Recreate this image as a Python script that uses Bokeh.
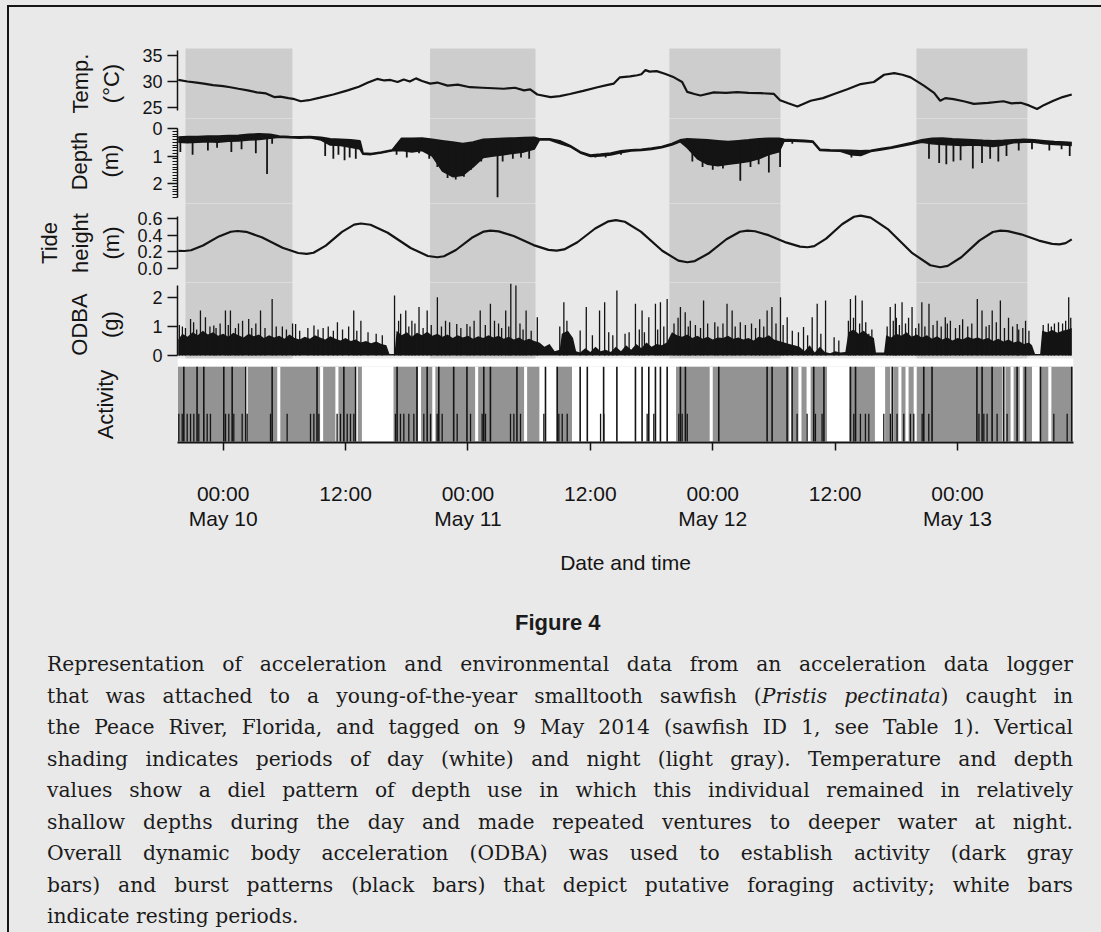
import numpy as np
from bokeh.plotting import figure
from bokeh.models import Range1d, FixedTicker, BoxAnnotation, Div, NumeralTickFormatter
from bokeh.layouts import column
from bokeh.embed import file_html
from bokeh.resources import INLINE

# ---------------- data : time in hours since 00:00, 10 May 2014 ----------------
night_start = [-3.7, 20.28, 43.75, 67.97]
night_end = [6.79, 30.62, 54.64, 78.85]

tick_hours = [0, 12, 24, 36, 48, 60, 72]
tick_labels = ["00:00\nMay 10", "12:00", "00:00\nMay 11", "12:00", "00:00\nMay 12", "12:00", "00:00\nMay 13"]

temp_t = [-4.4, -3.5, -2.6, -1.9, -1.0, 0.0, 0.7, 1.5, 2.4, 3.3, 4.2, 5.0, 5.6, 6.4, 7.0, 7.6, 8.4, 9.5,
          10.8, 12.2, 13.3, 14.2, 15.1, 15.8, 16.4, 17.1, 17.7, 18.3, 18.9, 19.5, 20.3, 21.0, 22.0, 23.0,
          24.2, 25.4, 26.5, 27.5, 28.6, 29.5, 30.1, 30.8, 32.1, 33.0, 34.0, 35.3, 36.7, 37.6, 38.3, 38.9,
          39.9, 40.6, 41.0, 41.4, 41.8, 42.5, 43.3, 44.2, 45.0, 45.5, 46.2, 46.8, 48.1, 49.3, 50.4, 51.5,
          52.7, 54.0, 54.6, 55.4, 56.3, 57.6, 58.8, 59.9, 61.2, 62.5, 63.8, 64.8, 65.8, 66.6, 67.4, 68.7,
          69.7, 70.3, 70.8, 71.6, 72.6, 73.6, 75.0, 76.5, 77.3, 78.2, 79.0, 79.8, 80.5, 81.4, 82.3, 83.2]
temp_c = [30.3, 30.0, 29.8, 29.6, 29.3, 29.1, 28.9, 28.6, 28.3, 27.9, 27.7, 27.0, 27.1, 26.8, 26.6, 26.2,
          26.4, 26.9, 27.5, 28.3, 29.0, 29.8, 30.5, 30.2, 30.3, 29.9, 30.4, 30.0, 30.6, 30.1, 29.6, 29.8,
          29.2, 29.4, 28.9, 28.8, 28.7, 28.6, 28.8, 28.3, 28.5, 27.5, 27.0, 27.2, 27.6, 28.2, 28.9, 29.3,
          29.6, 30.8, 31.0, 31.2, 31.4, 32.2, 31.9, 32.0, 31.5, 30.8, 29.9, 28.0, 27.6, 27.3, 27.9, 27.8,
          27.95, 27.8, 27.75, 27.6, 26.4, 25.8, 25.2, 26.3, 26.8, 27.6, 28.5, 29.5, 29.9, 31.3, 31.6, 31.3,
          30.8, 29.2, 27.8, 26.3, 26.8, 26.6, 26.2, 25.7, 25.9, 26.2, 25.8, 25.9, 25.4, 24.7, 25.5, 26.3,
          27.0, 27.5]

depth_t = [-4.4, -3.5, -2.5, -1.5, -0.5, 0.5, 1.5, 2.5, 3.5, 4.6, 5.5, 6.5, 7.5, 8.5, 9.6, 10.5, 11.5,
           12.5, 13.4, 13.7, 14.5, 15.5, 16.6, 17.5, 18.5, 19.5, 20.5, 21.5, 22.5, 23.5, 24.5, 25.5, 26.5,
           27.5, 28.5, 29.5, 30.5, 31.0, 32.0, 33.0, 34.0, 35.0, 36.0, 37.0, 38.0, 39.0, 40.0, 41.0, 42.0,
           43.0, 44.0, 44.8, 45.5, 46.5, 47.5, 48.5, 49.5, 50.5, 51.5, 52.5, 53.5, 54.5, 55.0, 56.0, 57.0,
           57.8, 58.5, 59.5, 60.5, 61.5, 62.5, 63.5, 64.5, 65.5, 66.5, 67.5, 68.5, 69.5, 70.5, 71.5, 72.5,
           73.5, 74.5, 75.5, 76.5, 77.5, 78.5, 79.5, 80.5, 81.5, 82.5, 83.2]
depth_top = [0.32, 0.30, 0.30, 0.28, 0.28, 0.26, 0.25, 0.22, 0.20, 0.22, 0.28, 0.30, 0.31, 0.30, 0.33,
             0.38, 0.40, 0.42, 0.45, 0.90, 0.92, 0.86, 0.78, 0.36, 0.36, 0.35, 0.40, 0.45, 0.50, 0.55,
             0.50, 0.40, 0.38, 0.36, 0.35, 0.34, 0.33, 0.38, 0.38, 0.45, 0.62, 0.85, 0.97, 0.94, 0.90,
             0.82, 0.78, 0.76, 0.72, 0.66, 0.55, 0.42, 0.38, 0.40, 0.42, 0.45, 0.48, 0.45, 0.42, 0.38,
             0.36, 0.36, 0.40, 0.42, 0.44, 0.46, 0.76, 0.78, 0.79, 0.80, 0.82, 0.80, 0.74, 0.68, 0.60,
             0.52, 0.42, 0.36, 0.35, 0.38, 0.40, 0.42, 0.44, 0.45, 0.44, 0.42, 0.40, 0.42, 0.45, 0.48,
             0.50, 0.52]
depth_bot = [0.50, 0.52, 0.50, 0.48, 0.50, 0.46, 0.45, 0.42, 0.40, 0.35, 0.32, 0.34, 0.35, 0.34, 0.42,
             0.60, 0.62, 0.68, 0.75, 0.94, 0.95, 0.89, 0.81, 0.80, 0.85, 0.80, 1.00, 1.55, 1.75, 1.70,
             1.40, 1.05, 1.00, 0.95, 0.90, 0.85, 0.75, 0.42, 0.42, 0.55, 0.66, 0.89, 1.02, 1.00, 0.96,
             0.88, 0.82, 0.80, 0.76, 0.70, 0.60, 0.48, 0.70, 1.10, 1.30, 1.35, 1.30, 1.25, 1.20, 1.10,
             0.95, 0.85, 0.45, 0.46, 0.48, 0.50, 0.80, 0.82, 0.83, 0.95, 0.98, 0.84, 0.78, 0.72, 0.65,
             0.57, 0.50, 0.55, 0.58, 0.60, 0.62, 0.60, 0.62, 0.65, 0.60, 0.52, 0.50, 0.50, 0.55, 0.58,
             0.60, 0.62]

depth_spike_t = [-4.2, -3.0, -1.5, -0.6, 0.8, 1.8, 3.2, 4.3, 4.8, 10.0, 10.8, 11.3, 11.9, 12.4, 13.0,
                 17.0, 18.0, 19.2, 20.2, 21.0, 22.0, 22.8, 23.6, 24.3, 25.3, 26.9, 27.4, 28.4, 29.2, 30.0,
                 36.5, 37.5, 39.0, 46.0, 47.0, 48.0, 49.0, 50.7, 51.7, 52.5, 53.5, 54.6, 55.8, 61.6, 62.3,
                 69.2, 70.2, 70.9, 71.6, 72.3, 73.5, 74.4, 75.2, 76.0, 76.8, 78.0, 79.3, 81.0, 82.2, 83.0]
depth_spike_d = [0.85, 0.95, 0.80, 0.70, 0.85, 0.75, 0.90, 1.65, 0.55, 1.00, 1.10, 0.95, 1.15, 1.05, 1.10,
                 0.95, 1.05, 0.90, 1.10, 1.40, 1.80, 1.85, 1.75, 1.50, 1.20, 2.50, 1.20, 1.10, 1.05, 1.10,
                 1.05, 1.05, 0.95, 1.20, 1.40, 1.50, 1.45, 1.90, 1.40, 1.30, 1.60, 1.40, 0.55, 1.05, 1.00,
                 1.10, 1.25, 1.30, 1.20, 1.15, 1.45, 1.25, 1.10, 1.20, 1.00, 0.80, 0.75, 0.80, 0.75, 1.00]

tide_t = [-4.4, -3.8, -3.15, -1.98, -0.42, 0.75, 1.4, 2.25, 3.78, 5.82, 7.35, 8.2, 8.86, 10.06, 11.65,
          12.84, 13.5, 14.44, 16.13, 18.38, 20.06, 21.0, 21.65, 22.82, 24.38, 25.55, 26.2, 27.01, 28.48,
          30.43, 31.89, 32.7, 33.43, 34.73, 36.47, 37.78, 38.5, 39.38, 40.95, 43.05, 44.63, 45.5, 46.24,
          47.57, 49.34, 50.66, 51.4, 52.14, 53.47, 55.24, 56.56, 57.3, 57.95, 59.12, 60.68, 61.85, 62.5,
          63.48, 65.23, 67.57, 69.33, 70.3, 71.04, 72.37, 74.14, 75.46, 76.2, 76.93, 78.23, 79.97, 81.28,
          82.0, 82.6, 83.2]
tide_h = [0.212, 0.21, 0.219, 0.276, 0.385, 0.441, 0.45, 0.44, 0.375, 0.25, 0.186, 0.175, 0.189, 0.275,
          0.44, 0.526, 0.54, 0.525, 0.429, 0.246, 0.15, 0.135, 0.147, 0.222, 0.368, 0.443, 0.455, 0.446,
          0.39, 0.281, 0.224, 0.215, 0.229, 0.315, 0.48, 0.566, 0.58, 0.561, 0.442, 0.213, 0.094, 0.075,
          0.089, 0.179, 0.351, 0.441, 0.455, 0.447, 0.4, 0.31, 0.263, 0.255, 0.269, 0.359, 0.531, 0.621,
          0.635, 0.611, 0.466, 0.184, 0.039, 0.015, 0.032, 0.135, 0.335, 0.438, 0.455, 0.449, 0.41, 0.335,
          0.296, 0.29, 0.305, 0.35]

odba_t = [-4.4, -4.0, -3.5, -3.0, -2.5, -2.0, -1.5, -1.0, -0.5, 0.0, 0.5, 1.0, 1.5, 2.0, 2.5, 3.0, 3.5,
          4.0, 4.5, 5.0, 5.5, 6.0, 6.5, 7.0, 7.5, 8.0, 8.5, 9.0, 9.5, 10.0, 10.5, 11.0, 11.5, 12.0, 12.5,
          13.0, 13.5, 14.0, 14.5, 15.0, 15.5, 16.0, 16.3, 16.8, 17.0, 17.5, 18.0, 18.5, 19.0, 19.5, 20.0,
          20.5, 21.0, 21.5, 22.0, 22.5, 23.0, 23.5, 24.0, 24.5, 25.0, 25.5, 26.0, 26.5, 27.0, 27.5, 28.0,
          28.5, 29.0, 29.5, 30.0, 30.5, 31.0, 31.5, 32.0, 32.5, 33.0, 33.2, 33.8, 34.3, 34.6, 35.0, 35.5,
          36.0, 36.5, 37.0, 37.5, 38.0, 38.5, 39.0, 39.5, 40.0, 40.5, 41.0, 41.5, 42.0, 42.5, 43.0, 43.5,
          44.0, 44.5, 45.0, 45.5, 46.0, 46.5, 47.0, 47.5, 48.0, 48.5, 49.0, 49.5, 50.0, 50.5, 51.0, 51.5,
          52.0, 52.5, 53.0, 53.5, 54.0, 54.5, 55.0, 55.5, 56.0, 56.5, 57.0, 57.5, 58.0, 58.5, 59.0, 59.5,
          60.0, 60.5, 61.0, 61.3, 61.8, 62.3, 62.8, 63.3, 63.8, 64.0, 64.8, 65.0, 65.5, 66.0, 66.5, 67.0,
          67.5, 68.0, 68.5, 69.0, 69.5, 70.0, 70.5, 71.0, 71.5, 72.0, 72.5, 73.0, 73.5, 74.0, 74.5, 75.0,
          75.5, 76.0, 76.5, 77.0, 77.5, 78.0, 78.5, 79.0, 79.3, 79.6, 80.1, 80.3, 80.8, 81.3, 81.8, 82.3,
          82.8, 83.2]
odba_v = [0.55, 0.75, 0.65, 0.80, 0.70, 0.85, 0.72, 0.80, 0.68, 0.75, 0.65, 0.78, 0.70, 0.62, 0.75, 0.66,
          0.72, 0.60, 0.70, 0.62, 0.68, 0.58, 0.72, 0.60, 0.55, 0.65, 0.58, 0.70, 0.62, 0.55, 0.66, 0.58,
          0.52, 0.60, 0.50, 0.55, 0.45, 0.50, 0.42, 0.48, 0.40, 0.35, 0.05, 0.05, 0.85, 0.70, 0.80, 0.65,
          0.78, 0.70, 0.82, 0.68, 0.75, 0.65, 0.72, 0.60, 0.70, 0.62, 0.68, 0.58, 0.66, 0.60, 0.70, 0.62,
          0.68, 0.58, 0.65, 0.55, 0.62, 0.52, 0.58, 0.50, 0.45, 0.30, 0.40, 0.15, 0.20, 0.75, 0.85, 0.60,
          0.15, 0.10, 0.25, 0.12, 0.30, 0.15, 0.20, 0.12, 0.30, 0.15, 0.35, 0.20, 0.40, 0.25, 0.45, 0.30,
          0.40, 0.35, 0.45, 0.80, 0.70, 0.65, 0.72, 0.60, 0.68, 0.58, 0.65, 0.55, 0.62, 0.60, 0.68, 0.58,
          0.62, 0.55, 0.60, 0.52, 0.65, 0.60, 0.70, 0.55, 0.50, 0.45, 0.40, 0.35, 0.30, 0.15, 0.35, 0.10,
          0.30, 0.12, 0.08, 0.15, 0.10, 0.12, 0.80, 0.90, 0.75, 0.85, 0.70, 0.60, 0.10, 0.10, 0.70, 0.62,
          0.75, 0.68, 0.80, 0.65, 0.72, 0.62, 0.70, 0.58, 0.66, 0.55, 0.62, 0.52, 0.60, 0.55, 0.65, 0.58,
          0.62, 0.55, 0.60, 0.50, 0.58, 0.48, 0.55, 0.45, 0.50, 0.40, 0.45, 0.35, 0.05, 0.05, 0.85, 0.80,
          0.88, 0.78, 0.85, 0.90, 0.95]

odba_spike_t = [-4.0, -3.2, -2.23, -1.74, -0.92, -0.3, 0.22, 0.71, 1.5, 2.5, 3.66, 4.8, 5.8, 7.1, 8.9, 9.8,
                11.2, 12.8, 13.5, 16.8, 17.4, 17.9, 18.5, 19.2, 20.0, 21.0, 22.2, 22.9, 23.9, 24.6, 25.2,
                26.2, 27.0, 27.7, 28.2, 28.7, 29.7, 30.8, 33.4, 35.0, 35.6, 36.9, 37.4, 38.6, 39.4, 40.42,
                41.07, 41.73, 42.38, 42.87, 43.53, 44.83, 45.3, 45.8, 47.1, 48.2, 49.4, 49.9, 50.7, 51.8,
                52.6, 53.33, 53.8, 54.64, 55.3, 56.9, 57.75, 58.24, 59.06, 59.9, 60.36, 61.5, 62.0, 62.65,
                63.3, 65.4, 65.9, 66.0, 66.56, 67.54, 68.5, 69.2, 70.0, 70.8, 71.3, 72.5, 73.94, 74.4, 75.4,
                76.2, 77.0, 77.85, 78.67, 81.5, 82.9,
                -4.3, -3.7, -2.9, -2.6, -1.3, -0.7, 0.5, 1.2, 1.9, 2.8, 3.2, 4.1, 5.2, 6.2, 6.8, 7.5, 8.3,
                9.3, 10.3, 10.8, 11.7, 12.3, 13.1, 14.2, 15.0, 15.6, 17.2, 18.2, 18.8, 19.6, 20.4, 21.4,
                21.8, 23.3, 24.2, 25.7, 26.6, 27.3, 28.0, 29.1, 29.4, 30.2, 33.0, 33.7, 36.2, 37.8, 38.2,
                39.8, 40.8, 41.3, 42.6, 43.2, 44.2, 44.6, 45.6, 46.3, 46.8, 47.5, 48.5, 49.0, 50.2, 51.2,
                52.2, 53.0, 54.2, 54.9, 55.8, 56.4, 57.3, 58.6, 61.3, 61.8, 62.4, 63.0, 63.6, 65.1, 65.7,
                66.3, 66.9, 67.2, 67.9, 68.2, 68.8, 69.6, 70.4, 71.0, 71.8, 72.2, 73.0, 73.4, 74.8, 75.1,
                75.8, 76.6, 77.4, 78.0, 78.4, 79.0, 80.4, 80.9, 81.2, 81.9, 82.3, 82.6, 83.1]
odba_spike_v = [1.0, 1.26, 1.55, 1.32, 1.03, 1.1, 1.55, 1.55, 1.1, 1.26, 1.55, 1.95, 1.0, 1.09, 1.03, 0.95,
                1.15, 1.55, 1.2, 2.07, 1.44, 1.55, 1.2, 1.67, 1.55, 2.01, 1.15, 1.09, 1.09, 1.2, 1.55,
                1.78, 1.1, 1.55, 2.47, 2.41, 1.55, 1.32, 1.84, 0.86, 1.67, 1.55, 1.84, 2.24, 0.75, 1.78,
                1.55, 1.32, 1.78, 1.84, 1.95, 1.67, 1.49, 1.2, 1.9, 1.15, 1.78, 1.55, 1.15, 1.1,
                1.25, 1.55, 1.67, 2.01, 1.32, 0.98, 1.32, 1.78, 1.9, 0.63, 0.52, 1.95, 2.07, 1.9,
                0.75, 1.67, 1.78, 1.3, 1.84, 1.67, 1.84, 1.78, 1.2, 1.32, 1.2, 1.25, 1.95, 1.55, 1.55,
                1.9, 1.3, 1.09, 1.2, 1.1, 2.01,
                1.05, 0.95, 1.15, 0.9, 1.0, 0.95, 1.05, 0.95, 1.2, 0.95, 1.1, 0.95, 1.0, 0.9, 1.1, 0.85, 0.95,
                0.9, 1.0, 0.85, 0.9, 1.0, 0.85, 0.8, 0.75, 0.7, 1.2, 1.0, 1.1, 0.95, 1.05, 1.0,
                1.2, 0.95, 1.0, 1.05, 1.2, 0.95, 1.0, 1.1, 0.9, 0.85, 1.0, 1.2, 0.7, 0.8, 0.7,
                0.8, 0.9, 0.8, 0.9, 1.0, 1.1, 1.3, 1.0, 1.05, 0.95, 1.1, 1.0, 1.1, 1.0, 1.05,
                0.95, 1.0, 1.1, 1.05, 0.85, 0.8, 0.7, 0.75, 1.2, 1.3, 1.1, 1.15, 0.9, 1.0, 1.2,
                1.05, 1.1, 1.3, 0.95, 1.1, 1.0, 1.05, 1.0, 1.1, 0.95, 1.05, 1.0, 1.1, 1.0, 1.05,
                1.15, 0.95, 1.0, 0.9, 0.95, 0.85, 1.05, 1.1, 1.0, 1.15, 1.1, 1.2, 1.3]

active_start = [-4.45, 16.7, 32.7, 44.4, 57.6, 61.4, 64.9, 80.1]
active_end = [13.6, 31.0, 34.2, 57.2, 59.2, 63.9, 79.3, 83.25]
rest_start = [2.1, 5.3, 9.5, 11.0, 12.9, 19.1, 20.5, 24.7, 29.5, 47.7, 55.5, 56.4, 65.4, 66.2, 66.9, 67.7,
              76.4, 77.2, 78.1, 80.9]
rest_end = [2.4, 5.6, 9.8, 11.3, 13.2, 19.4, 20.8, 25.0, 29.8, 48.0, 55.8, 56.7, 65.7, 66.5, 67.2, 68.0,
            76.7, 77.5, 78.4, 81.2]
burst_full = [-3.86, -2.56, -1.9, 0.06, 0.88, 2.19, 4.8, 9.2, 11.83, 12.97, 17.05, 19.0, 20.0, 21.14, 22.6,
              23.9, 25.55, 26.2, 28.8, 31.6, 32.75, 35.0, 35.7, 37.3, 38.6, 40.42, 41.07, 41.73, 42.38,
              42.87, 43.53, 44.83, 45.32, 48.59, 53.33, 53.82, 55.29, 55.78, 57.9, 58.9, 61.5, 62.0, 65.6,
              68.69, 69.5, 73.9, 74.41, 75.39, 76.53, 77.84, 78.66, 80.13, 83.2]
burst_low = [-4.35, -4.02, -3.53, -3.2, -2.88, -2.39, -1.57, -1.25, 0.23, 0.55, 1.04, 1.86, 2.35, 4.64,
             6.27, 8.56, 8.89, 9.38, 11.17, 11.5, 12.16, 12.48, 12.81, 16.89, 17.38, 17.71, 18.2, 18.69,
             19.67, 20.33, 20.98, 21.47, 22.94, 24.25, 25.39, 25.72, 28.17, 28.5, 29.15, 31.44, 32.91,
             33.24, 33.73, 37.0, 37.32, 41.57, 42.22, 44.67, 45.0, 45.5, 56.27, 57.25, 58.07, 58.72, 61.83,
             62.48, 62.97, 63.3, 64.77, 65.42, 66.07, 66.73, 67.38, 67.71, 68.53, 69.18, 74.1, 74.58, 74.9,
             75.88, 76.86, 81.44, 82.75]

caption_lines = [
    "Representation of acceleration and environmental data from an acceleration data logger",
    "that was attached to a young-of-the-year smalltooth sawfish (<i>Pristis pectinata</i>) caught in",
    "the Peace River, Florida, and tagged on 9 May 2014 (sawfish ID 1, see Table 1). Vertical",
    "shading indicates periods of day (white) and night (light gray). Temperature and depth",
    "values show a diel pattern of depth use in which this individual remained in relatively",
    "shallow depths during the day and made repeated ventures to deeper water at night.",
    "Overall dynamic body acceleration (ODBA) was used to establish activity (dark gray",
    "bars) and burst patterns (black bars) that depict putative foraging activity; white bars",
    "indicate resting periods.",
]

# ---------------- styling ----------------
BG = "#e9e9e9"
NIGHT = "#cdcdcd"
INK = "#141414"
SANS = "Liberation Sans"
X0, X1 = -4.48, 83.37
FL, FR = 177, 1073


def panel(height, y0, y1, top=0, bottom=0, night=True, fill=BG, xaxis=False):
    p = figure(width=1101, height=height, x_range=Range1d(X0, X1), y_range=Range1d(y0, y1),
               output_backend="svg", toolbar_location=None,
               x_axis_location="below" if xaxis else None,
               min_border_left=FL, min_border_right=1101 - FR,
               min_border_top=top, min_border_bottom=bottom)
    p.background_fill_color = fill
    p.border_fill_color = BG
    p.outline_line_color = None
    p.grid.visible = False
    if night:
        lo, hi = min(y0, y1), max(y0, y1)
        pad = hi - lo
        p.quad(left=night_start, right=night_end, bottom=lo - pad, top=hi + pad,
               fill_color=NIGHT, line_color=None, level="underlay")
    return p


def style_y(p, ticks, bounds, label, standoff, minor=()):
    ax = p.yaxis[0]
    ax.ticker = FixedTicker(ticks=list(ticks), minor_ticks=list(minor))
    ax.bounds = bounds
    ax.axis_line_color = INK
    ax.axis_line_width = 1.5
    ax.major_tick_line_color = INK
    ax.major_tick_line_width = 1.5
    ax.major_tick_out = 10
    ax.major_tick_in = 0
    ax.minor_tick_line_color = INK if len(minor) else None
    ax.minor_tick_line_width = 1.2
    ax.minor_tick_out = 5
    ax.minor_tick_in = 0
    ax.major_label_text_font = SANS
    ax.major_label_text_font_size = "18px"
    ax.major_label_text_color = INK
    ax.major_label_standoff = 5
    ax.axis_label = label
    ax.axis_label_text_font = SANS
    ax.axis_label_text_font_size = "22px"
    ax.axis_label_text_font_style = "normal"
    ax.axis_label_text_color = INK
    ax.axis_label_text_line_height = 1.24
    ax.axis_label_standoff = standoff
    return ax


# Temperature
p_temp = panel(118, 22.88, 36.35, top=48)
p_temp.line(temp_t, temp_c, line_color=INK, line_width=2.2)
style_y(p_temp, [25, 30, 35], (24.4, 36.0), "Temp.\n(°C)", 15)

# Depth
p_depth = panel(85, 2.727, -0.364)
p_depth.varea(x=depth_t, y1=depth_top, y2=depth_bot, fill_color=INK)
p_depth.line(depth_t, depth_top, line_color=INK, line_width=2)
p_depth.line(depth_t, depth_bot, line_color=INK, line_width=1.5)
p_depth.segment(x0=depth_spike_t, y0=np.interp(depth_spike_t, depth_t, depth_top).tolist(),
                x1=depth_spike_t, y1=depth_spike_d, line_color=INK, line_width=1.8)
style_y(p_depth, [0, 1, 2], (0, 2.5), "Depth\n(m)", 26, minor=[i / 10 for i in range(26)])

# Tide
p_tide = panel(79, -0.168, 0.78)
p_tide.line(tide_t, tide_h, line_color=INK, line_width=2.2)
ax = style_y(p_tide, [0.0, 0.2, 0.4, 0.6], (0, 0.63), "Tide\nheight\n(m)", 10)
ax.formatter = NumeralTickFormatter(format="0.0")

# ODBA (frame runs down to the white strip above the activity panel)
p_odba = panel(84, -0.38, 2.517)
p_odba.add_layout(BoxAnnotation(top=-0.1034, fill_color="white", fill_alpha=1.0, line_alpha=0,
                                level="overlay"))
p_odba.varea(x=odba_t, y1=0, y2=odba_v, fill_color=INK)
p_odba.segment(x0=odba_spike_t, y0=0, x1=odba_spike_t, y1=odba_spike_v, line_color=INK, line_width=1.3)
style_y(p_odba, [0, 1, 2], (0, 2.4), "ODBA\n(g)", 26)

# Activity
p_act = panel(224, -0.013, 1.0, bottom=148, night=False, fill="white", xaxis=True)
p_act.quad(left=active_start, right=active_end, bottom=0, top=1, fill_color="#939393", line_color=None)
p_act.quad(left=rest_start, right=rest_end, bottom=0, top=1, fill_color="white", line_color=None)
p_act.segment(x0=burst_low, y0=0, x1=burst_low, y1=0.37, line_color=INK, line_width=1.3)
p_act.segment(x0=burst_full, y0=0, x1=burst_full, y1=1, line_color=INK, line_width=1.6)
ya = p_act.yaxis[0]
ya.ticker = FixedTicker(ticks=[])
ya.axis_line_color = None
ya.major_tick_line_color = None
ya.minor_tick_line_color = None
ya.axis_label = "Activity"
ya.axis_label_text_font = SANS
ya.axis_label_text_font_size = "22px"
ya.axis_label_text_font_style = "normal"
ya.axis_label_text_color = INK
ya.axis_label_standoff = 60

xa = p_act.xaxis[0]
xa.ticker = FixedTicker(ticks=tick_hours)
xa.major_label_overrides = dict(zip(tick_hours, tick_labels))
xa.axis_line_color = INK
xa.axis_line_width = 2
xa.major_tick_line_color = INK
xa.major_tick_line_width = 1.5
xa.major_tick_out = 8
xa.major_tick_in = 0
xa.minor_tick_line_color = None
xa.major_label_text_font = SANS
xa.major_label_text_font_size = "21px"
xa.major_label_text_color = INK
xa.major_label_text_line_height = 1.1
xa.major_label_standoff = 31
xa.axis_label = "Date and time"
xa.axis_label_text_font = SANS
xa.axis_label_text_font_size = "21px"
xa.axis_label_text_font_style = "normal"
xa.axis_label_text_color = INK
xa.axis_label_standoff = 18

# Caption and frame lines
parts = [f'<div style="position:relative;width:1101px;height:342px;background:{BG};color:#1b1b1b;">',
         '<div style="position:fixed;left:7px;top:5px;width:2px;height:940px;background:#161616;"></div>',
         '<div style="position:fixed;left:7px;top:5px;width:1100px;height:2px;background:#161616;"></div>',
         f'<div style="position:absolute;left:515px;top:18px;font-family:\'{SANS}\';font-weight:bold;'
         'font-size:22px;line-height:30px;">Figure 4</div>']
for i, line in enumerate(caption_lines):
    last = i == len(caption_lines) - 1
    align = "left" if last else "justify"
    parts.append(f'<div style="position:absolute;left:47px;top:{59 + 31.5 * i}px;width:1026px;'
                 f"font-family:'DejaVu Serif';font-size:20.3px;line-height:30px;"
                 f'text-align:{align};text-align-last:{align};">{line}</div>')
parts.append('</div>')
cap = Div(text="".join(parts), width=1101, height=342, margin=0, styles={"background-color": BG})

layout = column(p_temp, p_depth, p_tide, p_odba, p_act, cap, spacing=0)

template = None
try:
    from bokeh.core.templates import get_env
    template = get_env().from_string(
        "{% extends 'file.html' %}{% block postamble %}<style>html, body { background: " + BG +
        "; }</style>{% endblock %}")
except Exception:
    template = None

if template is not None:
    html = file_html(layout, INLINE, title="Figure 4", template=template)
else:
    html = file_html(layout, INLINE, title="Figure 4")
open("out.html", "w").write(html)
